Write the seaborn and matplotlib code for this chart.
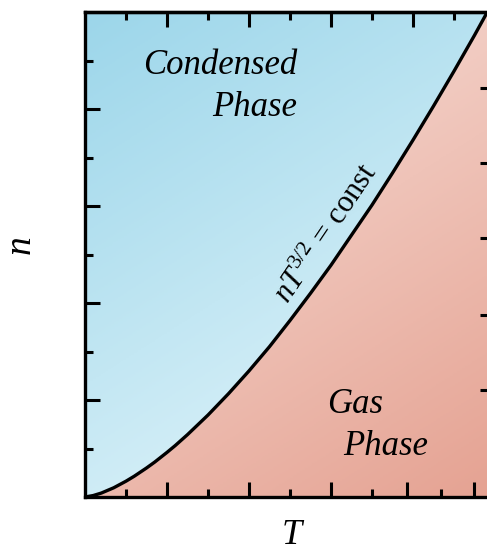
import numpy as np
import pandas as pd
import matplotlib
matplotlib.use("Agg")
import matplotlib.pyplot as plt
from matplotlib.patches import Polygon
from matplotlib.colors import LinearSegmentedColormap
import seaborn as sns

# ---- data ----
T_curve = [0.0, 0.1, 0.2, 0.35, 0.5, 0.6, 0.75, 0.85, 1.0, 1.1, 1.25, 1.5, 1.75,
           2.0, 2.25, 2.5, 2.75, 3.0, 3.25, 3.5, 3.75, 4.0, 4.25, 4.5, 4.75, 4.9]
n_curve = [0.0, 0.015, 0.041, 0.095, 0.163, 0.214, 0.299, 0.36, 0.46, 0.53, 0.643,
           0.845, 1.065, 1.30, 1.55, 1.82, 2.10, 2.39, 2.70, 3.01, 3.34, 3.68,
           4.03, 4.39, 4.76, 4.99]
curve_label = r"$nT^{3/2}$ = const"
region_labels = ["Condensed", "Phase", "Gas", "Phase"]
x_label = "T"
y_label = "n"

sns.set_theme(style="white")
plt.rcParams["font.family"] = ["Liberation Serif", "DejaVu Serif"]
plt.rcParams["mathtext.fontset"] = "custom"
plt.rcParams["mathtext.rm"] = "Liberation Serif"
plt.rcParams["mathtext.it"] = "Liberation Serif:italic"
plt.rcParams["text.color"] = "black"
plt.rcParams["axes.labelcolor"] = "black"

fig = plt.figure(figsize=(4.87, 5.59), dpi=100)
W, H = 487, 559
ax = fig.add_axes([85 / W, (H - 497) / H, 410 / W, 485 / H])
ax.set_xlim(0, 5)
ax.set_ylim(0, 5)

df = pd.DataFrame({"T": T_curve, "n": n_curve})

# gradients
gx, gy = np.meshgrid(np.linspace(0, 1, 300), np.linspace(0, 1, 300))  # gy: 0 top -> 1 bottom
blue = LinearSegmentedColormap.from_list("b", ["#9cd6ea", "#eaf8fc"])
red = LinearSegmentedColormap.from_list("r", ["#f9e4de", "#e5a292"])
sb = 0.35 * gx + 0.65 * gy
sr = 0.35 * gx + 0.65 * gy

pts = list(zip(T_curve, n_curve))
blue_poly = Polygon(pts + [(0, 5.0)], closed=True, transform=ax.transData,
                    facecolor="none", edgecolor="none")
red_poly = Polygon(pts + [(5.2, 5.0), (5.2, 0), (0, 0)], closed=True,
                   transform=ax.transData, facecolor="none", edgecolor="none")
ax.add_patch(blue_poly)
ax.add_patch(red_poly)
ib = ax.imshow(sb, cmap=blue, vmin=0, vmax=1, extent=[0, 5, 0, 5], aspect="auto",
               origin="upper", zorder=0)
ib.set_clip_path(blue_poly)
ir = ax.imshow(sr, cmap=red, vmin=0, vmax=1, extent=[0, 5, 0, 5], aspect="auto",
               origin="upper", zorder=0)
ir.set_clip_path(red_poly)
ax.set_xlim(0, 5)
ax.set_ylim(0, 5)

sns.lineplot(data=df, x="T", y="n", ax=ax, color="black", linewidth=2.4,
             sort=False, zorder=3, legend=False)
ax.lines[-1].set_solid_joinstyle("round")

for s in ax.spines.values():
    s.set_linewidth(2.4)
    s.set_color("black")
    s.set_zorder(5)

# ticks
ax.set_xticks([1, 2, 3, 3.93, 4.74])
ax.set_xticks([0.5, 1.5, 2.5, 3.5, 4.34], minor=True)
ax.set_yticks([1, 2, 3, 4])
ax.set_yticks([0.5, 1.5, 2.5, 3.5, 4.5], minor=True)
ax.tick_params(which="both", direction="in", labelbottom=False, labelleft=False,
               color="black", width=2.2, bottom=True, left=True, top=False, right=False)
ax.tick_params(which="major", length=11)
ax.tick_params(which="minor", length=5.5)

top = ax.secondary_xaxis("top")
top.set_xticks([1, 2, 3, 4])
top.set_xticks([0.5, 1.5, 2.5, 3.5, 4.5], minor=True)
top.tick_params(which="both", direction="in", labeltop=False, width=2.2, color="black")
top.tick_params(which="major", length=11)
top.tick_params(which="minor", length=5.5)
top.spines["top"].set_linewidth(2.4)

right = ax.secondary_yaxis("right")
right.set_yticks([4.22, 3.44, 2.67, 1.88, 1.10])
right.set_yticks([4.61, 3.81, 3.06, 2.27, 1.48, 0.71], minor=True)
right.tick_params(which="both", direction="in", labelright=False, width=2.2, color="black")
right.tick_params(which="major", length=11)
right.tick_params(which="minor", length=5.5)

# labels
fs = 25
ax.text(2.585, 4.36, region_labels[0], ha="right", va="baseline", fontsize=fs,
        style="italic", zorder=4, color="black")
ax.text(2.585, 3.93, region_labels[1], ha="right", va="baseline", fontsize=fs,
        style="italic", zorder=4, color="black")
ax.text(2.95, 0.866, region_labels[2], ha="left", va="baseline", fontsize=fs,
        style="italic", zorder=4, color="black")
ax.text(3.146, 0.433, region_labels[3], ha="left", va="baseline", fontsize=fs,
        style="italic", zorder=4, color="black")
ax.text(2.95, 2.71, curve_label, ha="center", va="center", fontsize=22,
        rotation=56, rotation_mode="anchor", zorder=4, color="black")

ax.set_xlabel(x_label, fontsize=26, style="italic", color="black")
ax.set_ylabel(y_label, fontsize=27, style="italic", color="black")
ax.xaxis.set_label_coords(0.505, -0.045)
ax.yaxis.set_label_coords(-0.115, 0.52)

fig.savefig("out.png", dpi=100)
